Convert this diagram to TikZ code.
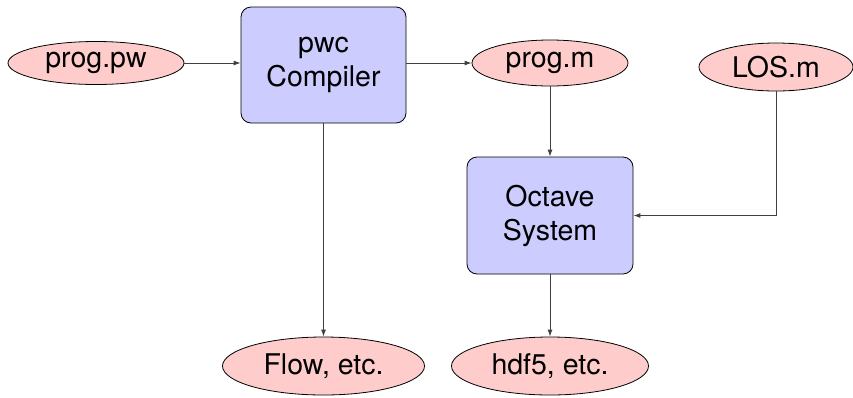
\documentclass[tikz,border=0pt]{standalone}
\usepackage{fontspec}
\setmainfont{TeX Gyre Heros}
\usetikzlibrary{shapes.geometric,arrows.meta}
\definecolor{filepink}{RGB}{255,204,204}
\definecolor{procblue}{RGB}{204,204,255}
\tikzset{
  filenode/.style={ellipse, draw=black, fill=filepink, line width=0.8pt, inner sep=0pt,
    font=\fontsize{28.5}{34}\selectfont},
  procnode/.style={rectangle, rounded corners=10pt, draw=black, fill=procblue, line width=0.8pt,
    inner sep=0pt, align=center, font=\fontsize{28.5}{34}\selectfont},
  flowarrow/.style={draw=black!75, line width=0.9pt, -{Latex[length=7pt,width=5pt]}}
}
\begin{document}
\begin{tikzpicture}[x=1pt,y=1pt]
\useasboundingbox (0,0) rectangle (853,-397);
\node[filenode, minimum width=176pt, minimum height=43pt] (pw) at (96,-63) {prog.pw};
\node[procnode, minimum width=165pt, minimum height=116pt] (comp) at (323.5,-65) {pwc\\Compiler};
\node[filenode, minimum width=156pt, minimum height=46pt] (pm) at (550,-63) {prog.m};
\node[filenode, minimum width=154pt, minimum height=48pt] (los) at (776,-67) {LOS.m};
\node[procnode, minimum width=166pt, minimum height=117pt] (oct) at (550,-215.5) {Octave\\System};
\node[filenode, minimum width=202pt, minimum height=58pt] (flow) at (323.5,-366) {Flow, etc.};
\node[filenode, minimum width=197pt, minimum height=58pt] (hdf) at (550,-366) {hdf5, etc.};
\draw[flowarrow] (pw.east) -- (pw.east -| comp.west);
\draw[flowarrow] (comp.east |- pm.west) -- (pm.west);
\draw[flowarrow] (pm.south) -- (oct.north);
\draw[flowarrow] (los.south) |- (oct.east);
\draw[flowarrow] (comp.south) -- (flow.north);
\draw[flowarrow] (oct.south) -- (hdf.north);
\end{tikzpicture}
\end{document}
